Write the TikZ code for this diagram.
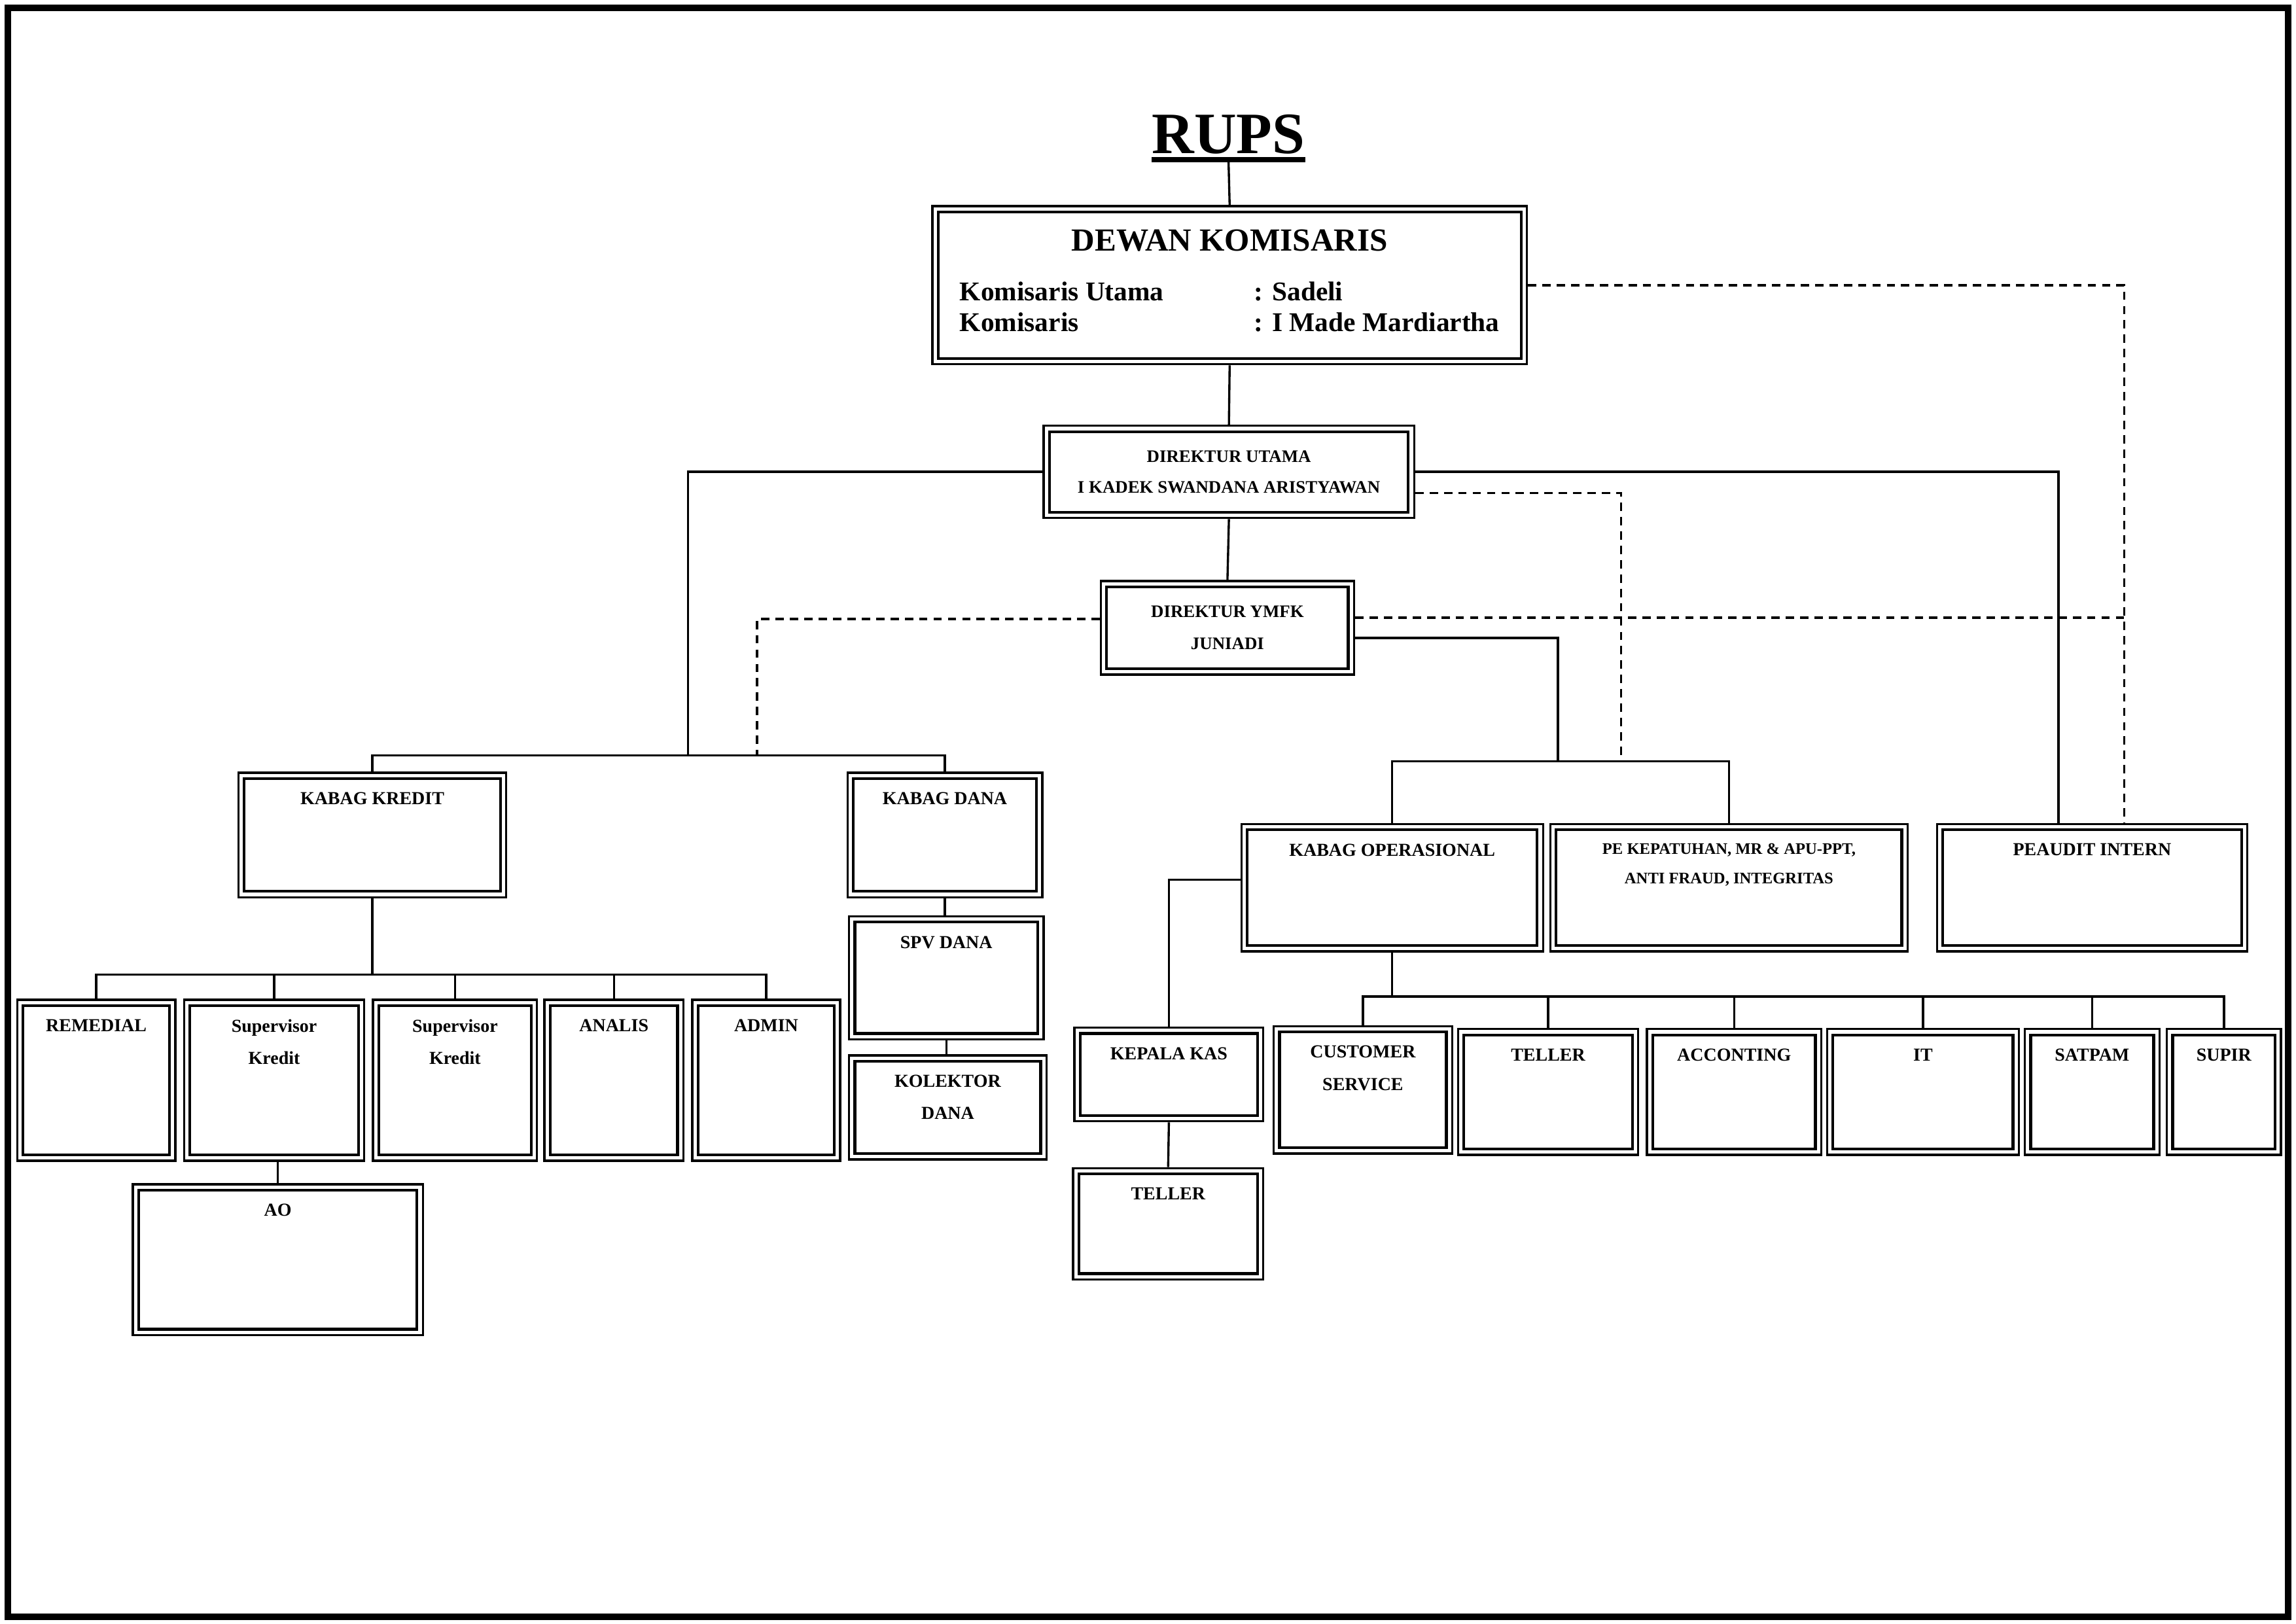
\documentclass[tikz,border=0pt]{standalone}
\usepackage{fontspec}
\setmainfont{Liberation Serif}

\begin{document}
\begin{tikzpicture}[x=1pt, y=-1pt,
  every node/.style={font=\bfseries\fontsize{12.5}{22}\selectfont},
  unit/.style={draw, line width=1.5pt, inner sep=0pt, anchor=north west,
    path picture={\draw[line width=1.9pt]
      ([shift={(4pt,-4pt)}]path picture bounding box.north west) rectangle
      ([shift={(-4pt,4pt)}]path picture bounding box.south east);}},
  lbl/.style={anchor=north, inner sep=0pt, yshift=-14pt, align=center},
  link/.style={line width=1.5pt},
  ctrl/.style={line width=1.5pt, dash pattern=on 5.7pt off 4.1pt}]
\useasboundingbox (0,0) rectangle (1568,1109);
\draw[line width=4.5pt] (5.2,5.2) rectangle (1562.5,1104);

\node[anchor=base, inner sep=0pt, font=\bfseries\fontsize{40}{44}\selectfont]
  (rups) at (839,105) {RUPS};
\draw[line width=3.5pt] ([yshift=-4pt]rups.base west) -- ([yshift=-4pt]rups.base east);
\coordinate (rupsU) at ([yshift=-5.5pt]rups.base);

% pengawas dan direksi
\node[unit, minimum width=406pt, minimum height=108pt] (dewan) at (636,140)
  {\fontsize{18.5}{21}\selectfont
   \begin{tabular}{@{}p{201pt}@{}l@{}}
   \multicolumn{2}{c}{\fontsize{22}{26}\selectfont DEWAN KOMISARIS}\\[13pt]
   Komisaris Utama & : Sadeli\\
   Komisaris & : I Made Mardiartha
   \end{tabular}};
\node[unit, minimum width=253pt, minimum height=63pt, align=center,
      font=\bfseries\fontsize{12}{21}\selectfont] (dirut) at (712,290)
  {DIREKTUR UTAMA\\I KADEK SWANDANA ARISTYAWAN};
\node[unit, minimum width=173pt, minimum height=64pt, align=center,
      font=\bfseries\fontsize{12}{22}\selectfont] (ymfk) at (751,396)
  {DIREKTUR YMFK\\JUNIADI};

% kepala bagian
\node[unit, minimum width=183pt, minimum height=85pt, label={[lbl]north:KABAG KREDIT}] (kredit) at (162,527) {};
\node[unit, minimum width=133pt, minimum height=85pt, label={[lbl]north:KABAG DANA}] (dana) at (578,527) {};
\node[unit, minimum width=133pt, minimum height=84pt, label={[lbl]north:SPV DANA}] (spvdana) at (579,625) {};
\node[unit, minimum width=135pt, minimum height=71pt, label={[lbl]north:KOLEKTOR\\DANA}] (kolektor) at (579,720) {};
\node[unit, minimum width=206pt, minimum height=87pt, label={[lbl]north:KABAG OPERASIONAL}] (ops) at (847,562) {};
\node[unit, minimum width=244pt, minimum height=87pt,
      label={[lbl, font=\bfseries\fontsize{11}{20}\selectfont]north:PE KEPATUHAN, MR \& APU-PPT,\\ANTI FRAUD, INTEGRITAS}] (pe) at (1058,562) {};
\node[unit, minimum width=212pt, minimum height=87pt, label={[lbl]north:PEAUDIT INTERN}] (audit) at (1322,562) {};

% bagian kredit
\node[unit, minimum width=108pt, minimum height=110pt, label={[lbl]north:REMEDIAL}] (remedial) at (11,682) {};
\node[unit, minimum width=123pt, minimum height=110pt, label={[lbl]north:Supervisor\\Kredit}] (spvA) at (125,682) {};
\node[unit, minimum width=112pt, minimum height=110pt, label={[lbl]north:Supervisor\\Kredit}] (spvB) at (254,682) {};
\node[unit, minimum width=95pt, minimum height=110pt, label={[lbl]north:ANALIS}] (analis) at (371,682) {};
\node[unit, minimum width=101pt, minimum height=110pt, label={[lbl]north:ADMIN}] (admin) at (472,682) {};
\node[unit, minimum width=198pt, minimum height=103pt, label={[lbl]north:AO}] (ao) at (90,808) {};

% bagian operasional
\node[unit, minimum width=129pt, minimum height=64pt, label={[lbl]north:KEPALA KAS}] (kas) at (733,701) {};
\node[unit, minimum width=130pt, minimum height=76pt, label={[lbl]north:TELLER}] (kasteller) at (732,797) {};
\node[unit, minimum width=122pt, minimum height=87pt, label={[lbl]north:CUSTOMER\\SERVICE}] (cs) at (869,700) {};
\node[unit, minimum width=123pt, minimum height=86pt, label={[lbl]north:TELLER}] (teller) at (995,702) {};
\node[unit, minimum width=119pt, minimum height=86pt, label={[lbl]north:ACCONTING}] (acc) at (1124,702) {};
\node[unit, minimum width=131pt, minimum height=86pt, label={[lbl]north:IT}] (it) at (1247,702) {};
\node[unit, minimum width=92pt, minimum height=86pt, label={[lbl]north:SATPAM}] (satpam) at (1382,702) {};
\node[unit, minimum width=78pt, minimum height=86pt, label={[lbl]north:SUPIR}] (supir) at (1479,702) {};

% garis komando
\draw[link] (rupsU) -- (dewan.north);
\draw[link] (dewan.south) -- (dirut.north);
\draw[link] (dirut.south) -- (ymfk.north);
\coordinate (busL) at (470,516);
\draw[link] (dirut.west) -| (busL);
\draw[link] (kredit.north) |- (busL) -| (dana.north);
\coordinate (busR) at (1064,520);
\coordinate (ymfkR) at ([yshift=-7pt]ymfk.east);
\draw[link] (ymfkR) -| (busR);
\draw[link] (ops.north) |- (busR) -| (pe.north);
\coordinate (auditL) at ([xshift=-23pt]audit.north);
\coordinate (auditR) at ([xshift=22pt]audit.north);
\draw[link] (dirut.east) -| (auditL);

% garis koordinasi
\coordinate (tapL) at (517,516);
\coordinate (ymfkL) at ([yshift=6pt]ymfk.west);
\draw[ctrl] (ymfkL) -| (tapL);
\coordinate (tapR) at (1107,520);
\coordinate (dirutR) at ([yshift=-14.5pt]dirut.east);
\draw[ctrl] (dirutR) -| (tapR);
\draw[ctrl] (dewan.east) -| (auditR);
\coordinate (ymfkD) at ([yshift=7pt]ymfk.east);
\draw[ctrl] (ymfkD) -- (ymfkD -| auditR);

\foreach \kid in {remedial,spvA,spvB,analis,admin}
  \draw[link] (kredit.south) -- ++(0,52) -| (\kid.north);
\draw[link] (ao.north |- spvA.south) -- (ao.north);
\draw[link] (dana.south) -- (dana.south |- spvdana.north);
\draw[link] (spvdana.south) -- (spvdana.south |- kolektor.north);

\coordinate (opsL) at ([yshift=5.5pt]ops.west);
\draw[link] (opsL) -| (kas.north);
\draw[link] (kas.south) -- (kasteller.north);
\foreach \kid in {cs,teller,acc,it,satpam,supir}
  \draw[link] (ops.south) -- ++(0,30) -| (\kid.north);
\end{tikzpicture}
\end{document}
